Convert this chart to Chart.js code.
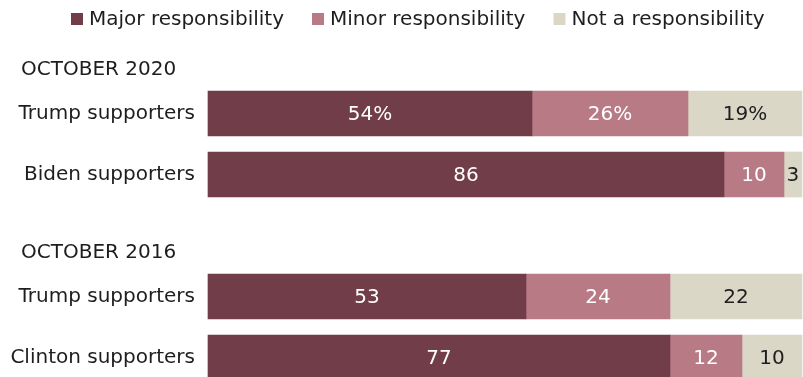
<!DOCTYPE html>
<html>
<head>
<meta charset="utf-8">
<script src="https://cdn.jsdelivr.net/npm/chart.js@4.4.0/dist/chart.umd.min.js"></script>
<style>
  html, body { margin: 0; padding: 0; background: #fff; overflow: hidden; }
  #wrap { width: 803px; height: 377px; position: relative; }
</style>
</head>
<body>
<div id="wrap"><canvas id="barChart"></canvas></div>
<script>
// rows of the chart, '' is the gap between the two surveys
var categories = ['Trump supporters', 'Biden supporters', '', 'Trump supporters', 'Clinton supporters'];
var groupTitles = ['OCTOBER 2020', 'OCTOBER 2016'];
var groupFirstRow = [0, 3];
var seriesNames = ['Major responsibility', 'Minor responsibility', 'Not a responsibility'];
var major = [54, 86, null, 53, 77];
var minor = [26, 10, null, 24, 12];
var notResp = [19, 3, null, 22, 10];

var colors = ['#713d48', '#b87a85', '#dad7c7'];
var labelColors = ['#ffffff', '#ffffff', '#1e1e1e'];
var textColor = '#1e1e1e';
var fontFamily = '"DejaVu Sans", sans-serif';

// value labels in the middle of each segment
var valueLabels = {
    id: 'valueLabels',
    afterDatasetsDraw: function (chart) {
        var ctx = chart.ctx;
        ctx.save();
        ctx.font = '20px ' + fontFamily;
        ctx.textAlign = 'center';
        ctx.textBaseline = 'middle';
        chart.data.datasets.forEach(function (ds, di) {
            var meta = chart.getDatasetMeta(di);
            meta.data.forEach(function (bar, i) {
                var v = ds.data[i];
                if (v === null) return;
                var p = bar.getProps(['x', 'y', 'base'], true);
                ctx.fillStyle = labelColors[di];
                ctx.fillText(v + (i === 0 ? '%' : ''), (p.x + p.base) / 2, p.y + 1);
            });
        });
        ctx.restore();
    }
};

// "OCTOBER 2020" etc above each group
var groupHeaders = {
    id: 'groupHeaders',
    afterDraw: function (chart) {
        var ctx = chart.ctx;
        var y = chart.scales.y;
        ctx.save();
        ctx.font = '20px ' + fontFamily;
        ctx.fillStyle = textColor;
        ctx.textAlign = 'left';
        ctx.textBaseline = 'middle';
        groupTitles.forEach(function (t, i) {
            ctx.fillText(t, 21, y.getPixelForValue(groupFirstRow[i]) - 44);
        });
        ctx.restore();
    }
};

// legend row at the top
var topLegend = {
    id: 'topLegend',
    afterDraw: function (chart) {
        var ctx = chart.ctx;
        ctx.save();
        ctx.font = '20px ' + fontFamily;
        ctx.textBaseline = 'middle';
        ctx.textAlign = 'left';
        var x = 71;
        chart.data.datasets.forEach(function (ds) {
            ctx.fillStyle = ds.backgroundColor;
            ctx.fillRect(x, 13, 12, 12);
            ctx.fillStyle = textColor;
            ctx.fillText(ds.label, x + 18, 20);
            x += 18 + ctx.measureText(ds.label).width + 28;
        });
        ctx.restore();
    }
};

var ctx = document.getElementById('barChart').getContext('2d');
var barChart = new Chart(ctx, {
    type: 'bar',
    data: {
        labels: categories,
        datasets: [
            { label: seriesNames[0], data: major, backgroundColor: colors[0] },
            { label: seriesNames[1], data: minor, backgroundColor: colors[1] },
            { label: seriesNames[2], data: notResp, backgroundColor: colors[2] }
        ]
    },
    options: {
        indexAxis: 'y',
        responsive: true,
        maintainAspectRatio: false,
        animation: false,
        datasets: {
            bar: { barThickness: 45, clip: false, borderWidth: 0 }
        },
        layout: {
            padding: { top: 113.5, bottom: 19.5, left: 0, right: 0 }
        },
        scales: {
            x: {
                stacked: true,
                display: false,
                min: 0,
                max: 99.17
            },
            y: {
                stacked: true,
                offset: false,
                grid: { display: false, drawTicks: false },
                border: { display: false },
                ticks: {
                    autoSkip: false,
                    padding: 13,
                    color: textColor,
                    font: { family: fontFamily, size: 20 }
                },
                afterFit: function (scale) {
                    scale.width = 208;
                    scale.paddingTop = 0;
                    scale.paddingBottom = 0;
                }
            }
        },
        plugins: {
            legend: { display: false },
            tooltip: { enabled: false }
        }
    },
    plugins: [valueLabels, groupHeaders, topLegend]
});
</script>
</body>
</html>
